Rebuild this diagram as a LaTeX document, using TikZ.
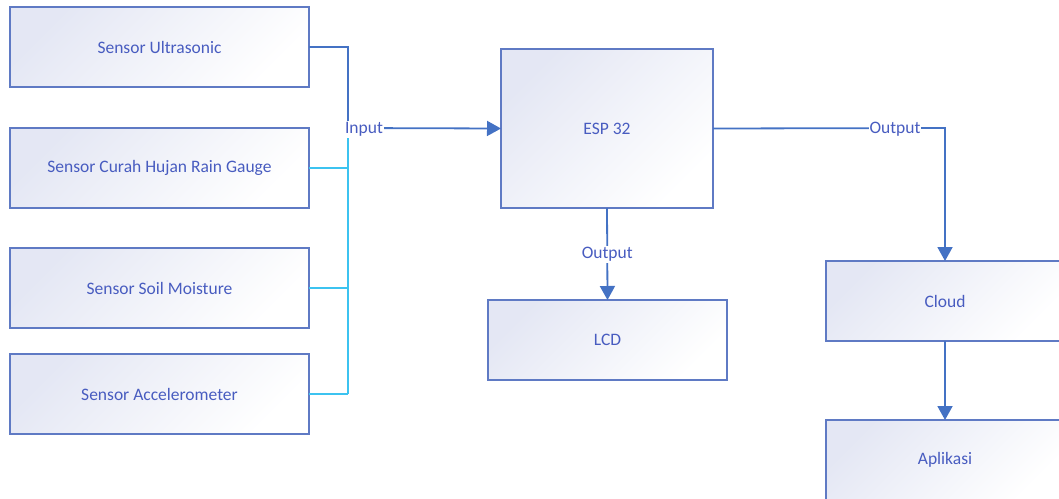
\documentclass[tikz,border=0pt]{standalone}
\usepackage{fontspec}
\setmainfont{Carlito}
\usetikzlibrary{arrows.meta}
\definecolor{linec}{RGB}{68,114,196}
\definecolor{cyanc}{RGB}{60,195,240}
\definecolor{boxc}{RGB}{95,122,196}
\definecolor{textc}{RGB}{72,92,192}
\definecolor{fillc}{RGB}{228,231,244}
\tikzset{
  blk/.style={draw=boxc, line width=1.3pt, top color=fillc, bottom color=white, shading angle=45,
    minimum width=299pt, minimum height=80pt, inner sep=0pt, outer sep=0pt,
    font=\fontsize{17.5}{20}\selectfont, text=textc},
  lbl/.style={fill=white, inner sep=1pt, yshift=-1.5pt, font=\fontsize{17.5}{20}\selectfont, text=textc},
  dark/.style={draw=linec, line width=1.8pt},
  lite/.style={draw=cyanc, line width=1.2pt},
  arr/.style={dark, -{Triangle[length=14pt,width=15pt]}}
}
\begin{document}
\begin{tikzpicture}[x=1pt,y=-1pt]
\useasboundingbox (0,0) rectangle (1059,498);
\node[blk] (us) at (159.5,47) {Sensor Ultrasonic};
\node[blk] (chr) at (159.5,168) {Sensor Curah Hujan Rain Gauge};
\node[blk] (soil) at (159.5,288) {Sensor Soil Moisture};
\node[blk] (acc) at (159.5,394) {Sensor Accelerometer};
\node[blk, minimum width=212pt, minimum height=159pt] (esp) at (607,128.5) {ESP 32};
\node[blk, minimum width=239pt] (lcd) at (607.5,340) {LCD};
\node[blk, minimum width=238pt] (cloud) at (945,301) {Cloud};
\node[blk, minimum width=238pt] (app) at (945,460) {Aplikasi};
\coordinate (bus) at (348,128);
\coordinate (busb) at (348,394);
\coordinate (cr) at (945,128);
% sensor connections
\draw[lite] (bus) -- (busb);
\draw[lite] (chr.east) -- (chr.east -| bus);
\draw[lite] (soil.east) -- (soil.east -| bus);
\draw[lite] (acc.east) -- (busb);
\draw[dark] (us.east) -| (bus);
\draw[arr] (bus) -- (esp.west);
\node[lbl] (in) at (364,128) {Input};
% outputs
\draw[arr] (esp.south) -- (lcd.north) node[lbl, pos=0.49] (o1) {Output};
\draw[arr] (esp.east) -- (cr) -- (cloud.north);
\node[lbl] (o2) at (895,128) {Output};
\draw[arr] (cloud.south) -- (app.north);
\end{tikzpicture}
\end{document}
